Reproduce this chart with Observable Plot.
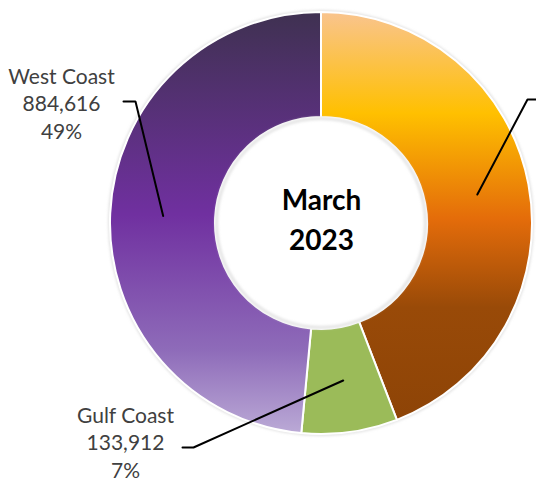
<!DOCTYPE html>
<html>
<head>
<meta charset="utf-8">
<script src="https://cdn.jsdelivr.net/npm/d3@7"></script>
<script src="https://cdn.jsdelivr.net/npm/@observablehq/plot@0.6"></script>
<style>
  html, body { margin: 0; padding: 0; background: #fff; }
  #chart svg { display: block; }
</style>
</head>
<body>
<div id="chart"></div>
<script>
// ---- data ----
const regions = ["East Coast", "Gulf Coast", "West Coast"];
const volumes = [805000, 133912, 884616];
const centerTitle = ["March", "2023"];

// ---- layout ----
const W = 536, H = 485;
const cx = 321, cy = 223, rOuter = 211, rInner = 106;
const fontFamily = "Lato, Carlito, Calibri, 'Liberation Sans', sans-serif";

const data = regions.map((r, i) => ({region: r, value: volumes[i]}));
const total = d3.sum(volumes);
const pie = d3.pie().sort(null).value(d => d.value);
const slices = pie(data);
const midArc = d3.arc().innerRadius(rInner).outerRadius(rOuter);

// label anchors (elbow of leader line) and text block centers
const labelLayout = {
  "East Coast": {elbow: [527, 99], end: [545, 99], text: null},
  "Gulf Coast": {elbow: [193, 447], end: [182, 447], text: [125, 441]},
  "West Coast": {elbow: [135, 101], end: [123, 101], text: [61, 102]}
};

const fmt = d3.format(",");
const pct = d3.format(".0%");

const leaderData = [];
slices.forEach(s => {
  const c = midArc.centroid(s);
  const L = labelLayout[s.data.region];
  leaderData.push({region: s.data.region, x: cx + c[0], y: cy + c[1], o: 0});
  leaderData.push({region: s.data.region, x: L.elbow[0], y: L.elbow[1], o: 1});
  leaderData.push({region: s.data.region, x: L.end[0], y: L.end[1], o: 2});
});

const labelData = slices
  .filter(s => labelLayout[s.data.region].text)
  .map(s => ({
    x: labelLayout[s.data.region].text[0],
    y: labelLayout[s.data.region].text[1],
    text: `${s.data.region}\n${fmt(s.data.value)}\n${pct(s.data.value / total)}`
  }));

const gradients = {
  "East Coast": {id: "gradEast", stops: [[0, "#F9C48E"], [0.24, "#FFC000"], [0.49, "#E46C0A"], [0.70, "#994A08"], [1, "#8C4306"]]},
  "West Coast": {id: "gradWest", stops: [[0, "#3F3151"], [0.48, "#7030A0"], [0.80, "#8E6BB9"], [1, "#BBAAD6"]]}
};
const solid = {"Gulf Coast": "#9BBB59"};

function donutMark(index, scales, values, dimensions, context) {
  const X = scales.x(cx), Y = scales.y(cy);
  const k = Math.abs(scales.x(1) - scales.x(0));
  const g = d3.create("svg:g");
  const defs = g.append("defs");
  for (const key in gradients) {
    const gr = gradients[key];
    const lg = defs.append("linearGradient")
      .attr("id", gr.id)
      .attr("gradientUnits", "userSpaceOnUse")
      .attr("x1", 0).attr("x2", 0)
      .attr("y1", -rOuter * k).attr("y2", rOuter * k);
    gr.stops.forEach(([o, c]) => lg.append("stop").attr("offset", o).attr("stop-color", c));
  }
  const shadow = defs.append("filter").attr("id", "soft").attr("x", "-10%").attr("y", "-10%").attr("width", "120%").attr("height", "120%");
  shadow.append("feGaussianBlur").attr("stdDeviation", 1.5);

  const gg = g.append("g").attr("transform", `translate(${X},${Y})`);
  // soft halo around the ring
  gg.append("circle").attr("r", rOuter * k + 0.5).attr("fill", "none")
    .attr("stroke", "#d4d4d4").attr("stroke-width", 2).attr("filter", "url(#soft)");
  const arc = d3.arc().innerRadius(rInner * k).outerRadius(rOuter * k);
  gg.selectAll("path.slice").data(slices).join("path")
    .attr("class", "slice")
    .attr("d", arc)
    .attr("fill", d => gradients[d.data.region] ? `url(#${gradients[d.data.region].id})` : solid[d.data.region])
    .attr("stroke", "#ffffff")
    .attr("stroke-width", 2)
    .attr("stroke-linejoin", "round");
  // inner edge shading
  gg.append("circle").attr("r", rInner * k - 1.5).attr("fill", "none")
    .attr("stroke", "#d6d6d6").attr("stroke-width", 2).attr("filter", "url(#soft)");
  return g.node();
}

const chart = Plot.plot({
  width: W,
  height: H,
  margin: 0,
  x: {domain: [0, W], range: [0, W], axis: null},
  y: {domain: [0, H], range: [0, H], axis: null},
  style: {background: "#ffffff", fontFamily: fontFamily, overflow: "hidden"},
  marks: [
    donutMark,
    Plot.line(leaderData, {x: "x", y: "y", z: "region", stroke: "#000000", strokeWidth: 2, sort: "o", strokeLinejoin: "miter"}),
    Plot.text(labelData, {
      x: "x", y: "y", text: "text",
      fontSize: 21, lineHeight: 1.33, fill: "#404040",
      textAnchor: "middle", lineAnchor: "middle", fontFamily: fontFamily
    }),
    Plot.text([centerTitle.join("\n")], {
      x: () => cx, y: () => cy - 6, text: d => d,
      fontSize: 28, fontWeight: "bold", lineHeight: 1.43, fill: "#000000",
      textAnchor: "middle", lineAnchor: "middle", fontFamily: fontFamily
    })
  ]
});

document.getElementById("chart").appendChild(chart);
</script>
</body>
</html>
